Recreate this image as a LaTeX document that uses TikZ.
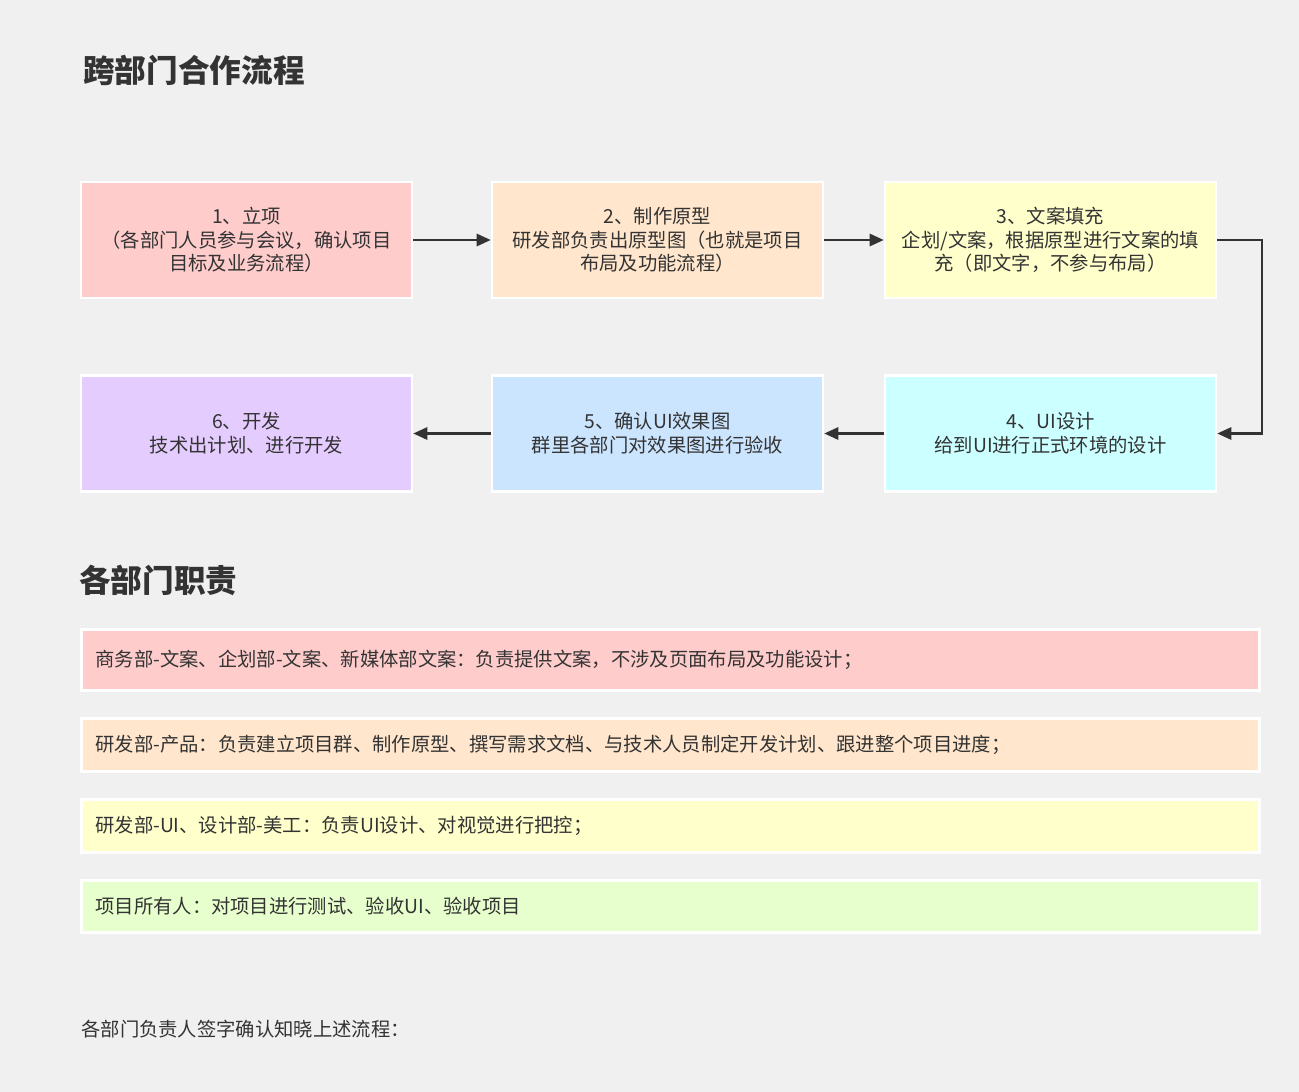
\documentclass[tikz,border=0pt]{standalone}
\usepackage{fontspec}
\setmainfont{Noto Sans CJK SC}
\usetikzlibrary{arrows.meta, positioning, calc}
\definecolor{bgc}{HTML}{F0F0F0}
\definecolor{cpink}{HTML}{FFCCCC}
\definecolor{cpeach}{HTML}{FFE6CC}
\definecolor{cyellow}{HTML}{FFFFCC}
\definecolor{ccyan}{HTML}{CCFFFF}
\definecolor{cblue}{HTML}{CCE5FF}
\definecolor{cviolet}{HTML}{E5CCFF}
\definecolor{cgreen}{HTML}{E6FFCC}
\definecolor{ctext}{HTML}{333333}
\tikzset{
    step/.style={draw=white, line width=1.5pt, fill=#1, minimum width=6.62cm, minimum height=2.32cm,
        align=center, text=ctext, font=\fontsize{11}{13.5}\selectfont, inner sep=2pt},
    duty/.style={draw=white, line width=1.5pt, fill=#1, minimum width=23.56cm, anchor=north west,
        text width=23.0cm, inner xsep=8pt, align=left, text=ctext, font=\fontsize{11}{13.5}\selectfont},
    flow/.style={-{Triangle[length=8pt,width=7pt]}, line width=1.2pt, draw=ctext},
    title/.style={anchor=west, text=ctext, font=\fontsize{18}{22}\selectfont\bfseries, inner sep=0pt}
}
\begin{document}
\begin{tikzpicture}[x=0.02cm, y=-0.02cm]
    \fill[bgc] (0,0) rectangle (1299,1092);
    \node[title] (t1) at (83,70) {跨部门合作流程};
    \node[title] (t2) at (79,580) {各部门职责};
    % flow boxes
    \node[step=cpink] (s1) at (246.5,240) {1、立项\\（各部门人员参与会议，确认项目\\目标及业务流程）};
    \node[step=cpeach] (s2) at (657.5,240) {2、制作原型\\研发部负责出原型图（也就是项目\\布局及功能流程）};
    \node[step=cyellow] (s3) at (1050.5,240) {3、文案填充\\企划/文案，根据原型进行文案的填\\充（即文字，不参与布局）};
    \node[step=ccyan] (s4) at (1050.5,433.5) {4、UI设计\\给到UI进行正式环境的设计};
    \node[step=cblue] (s5) at (657.5,433.5) {5、确认UI效果图\\群里各部门对效果图进行验收};
    \node[step=cviolet] (s6) at (246.5,433.5) {6、开发\\技术出计划、进行开发};
    \coordinate (c1) at (1262,240);
    \coordinate (c2) at (1262,433.5);
    \draw[flow] (s1) -- (s2);
    \draw[flow] (s2) -- (s3);
    \draw[flow] (s3.east) -- (c1) -- (c2) -- (s4.east);
    \draw[flow] (s4) -- (s5);
    \draw[flow] (s5) -- (s6);
    % duties
    \node[duty=cpink, minimum height=1.22cm] (d1) at (80,628) {商务部-文案、企划部-文案、新媒体部文案：负责提供文案，不涉及页面布局及功能设计；};
    \node[duty=cpeach, minimum height=1.06cm] (d2) at (80,717) {研发部-产品：负责建立项目群、制作原型、撰写需求文档、与技术人员制定开发计划、跟进整个项目进度；};
    \node[duty=cyellow, minimum height=1.06cm] (d3) at (80,798) {研发部-UI、设计部-美工：负责UI设计、对视觉进行把控；};
    \node[duty=cgreen, minimum height=1.04cm] (d4) at (80,879) {项目所有人：对项目进行测试、验收UI、验收项目};
    \node[anchor=west, text=ctext, font=\fontsize{11}{13.5}\selectfont, inner sep=0pt] (f1) at (81,1029) {各部门负责人签字确认知晓上述流程：};
\end{tikzpicture}
\end{document}
